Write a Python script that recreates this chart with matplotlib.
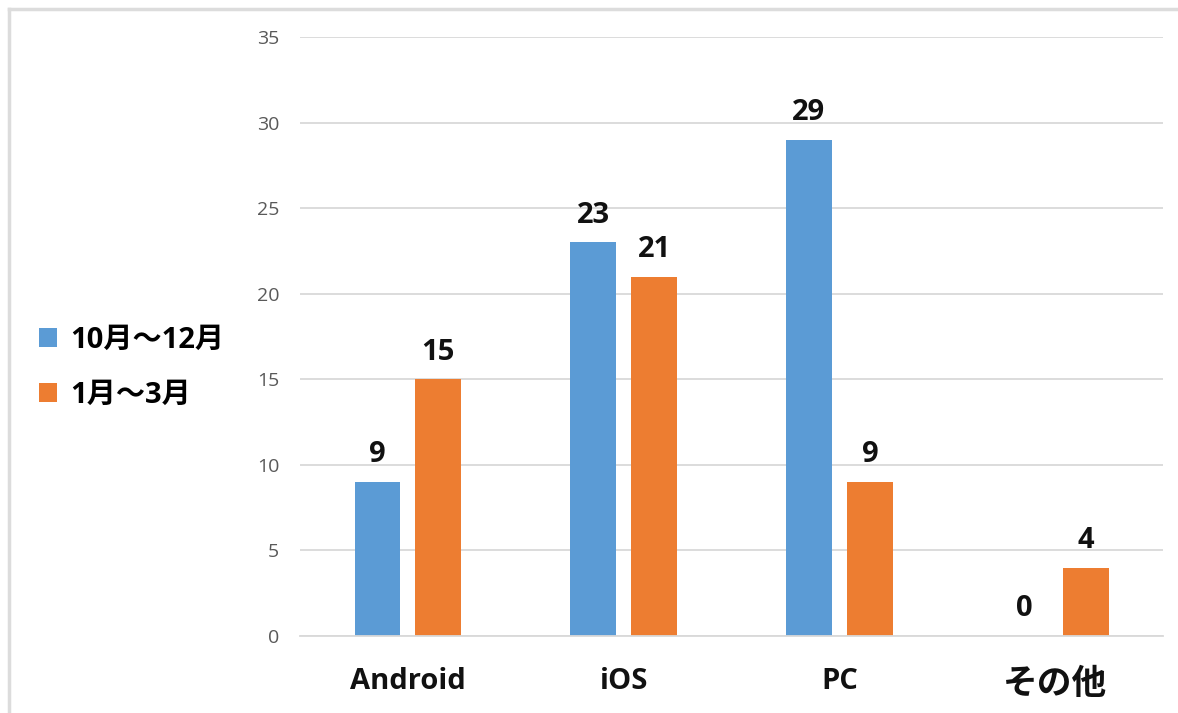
import matplotlib.pyplot as plt
import numpy as np
from matplotlib.lines import Line2D

plt.rcParams['font.family'] = ['Open Sans', 'Noto Sans CJK JP', 'DejaVu Sans']

categories = ['Android', 'iOS', 'PC', 'その他']
series_names = ['10月～12月', '1月～3月']
oct_dec = [9, 23, 29, 0]
jan_mar = [15, 21, 9, 4]
colors = ['#5b9bd5', '#ed7d31']

fig = plt.figure(figsize=(11.78, 7.13), dpi=100)
ax = fig.add_axes([0.2547, 0.108, 0.7326, 0.840])

x = np.arange(len(categories))
w = 0.213
off = 0.141
b1 = ax.bar(x - off, oct_dec, w, color=colors[0], label=series_names[0])
b2 = ax.bar(x + off, jan_mar, w, color=colors[1], label=series_names[1])
for b in (b1, b2):
    ax.bar_label(b, padding=9, fontsize=21, fontweight='bold', color='#111111')

ax.set_xlim(-0.5, len(categories) - 0.5)
ax.set_ylim(0, 35)
ax.set_yticks(np.arange(0, 36, 5))
ax.yaxis.grid(True, color='#d9d9d9', linewidth=1.3)
ax.set_axisbelow(True)
for s in ['top', 'right', 'left']:
    ax.spines[s].set_visible(False)
ax.spines['bottom'].set_color('#d9d9d9')
ax.spines['bottom'].set_linewidth(1.3)
ax.tick_params(axis='y', length=0, pad=15, labelsize=14, labelcolor='#595959')
ax.tick_params(axis='x', length=0, pad=22, labelsize=21)
ax.set_xticks(x)
ax.set_xticklabels(categories, fontweight='bold', color='#111111')
ax.get_xticklabels()[3].set_fontsize(25)

fig.legend(loc='center left', bbox_to_anchor=(0.033, 0.484), frameon=False,
           prop={'size': 21, 'weight': 'bold'}, handlelength=0.62, handleheight=0.62,
           handletextpad=0.45, labelspacing=0.9, borderpad=0, borderaxespad=0)

# thin frame on top and left
fig.add_artist(Line2D([9/1178, 1], [1 - 9/713, 1 - 9/713], color='#dcdcdc', lw=2.5))
fig.add_artist(Line2D([9/1178, 9/1178], [0, 1 - 9/713], color='#dcdcdc', lw=2.5))

fig.savefig('out.png', dpi=100)
